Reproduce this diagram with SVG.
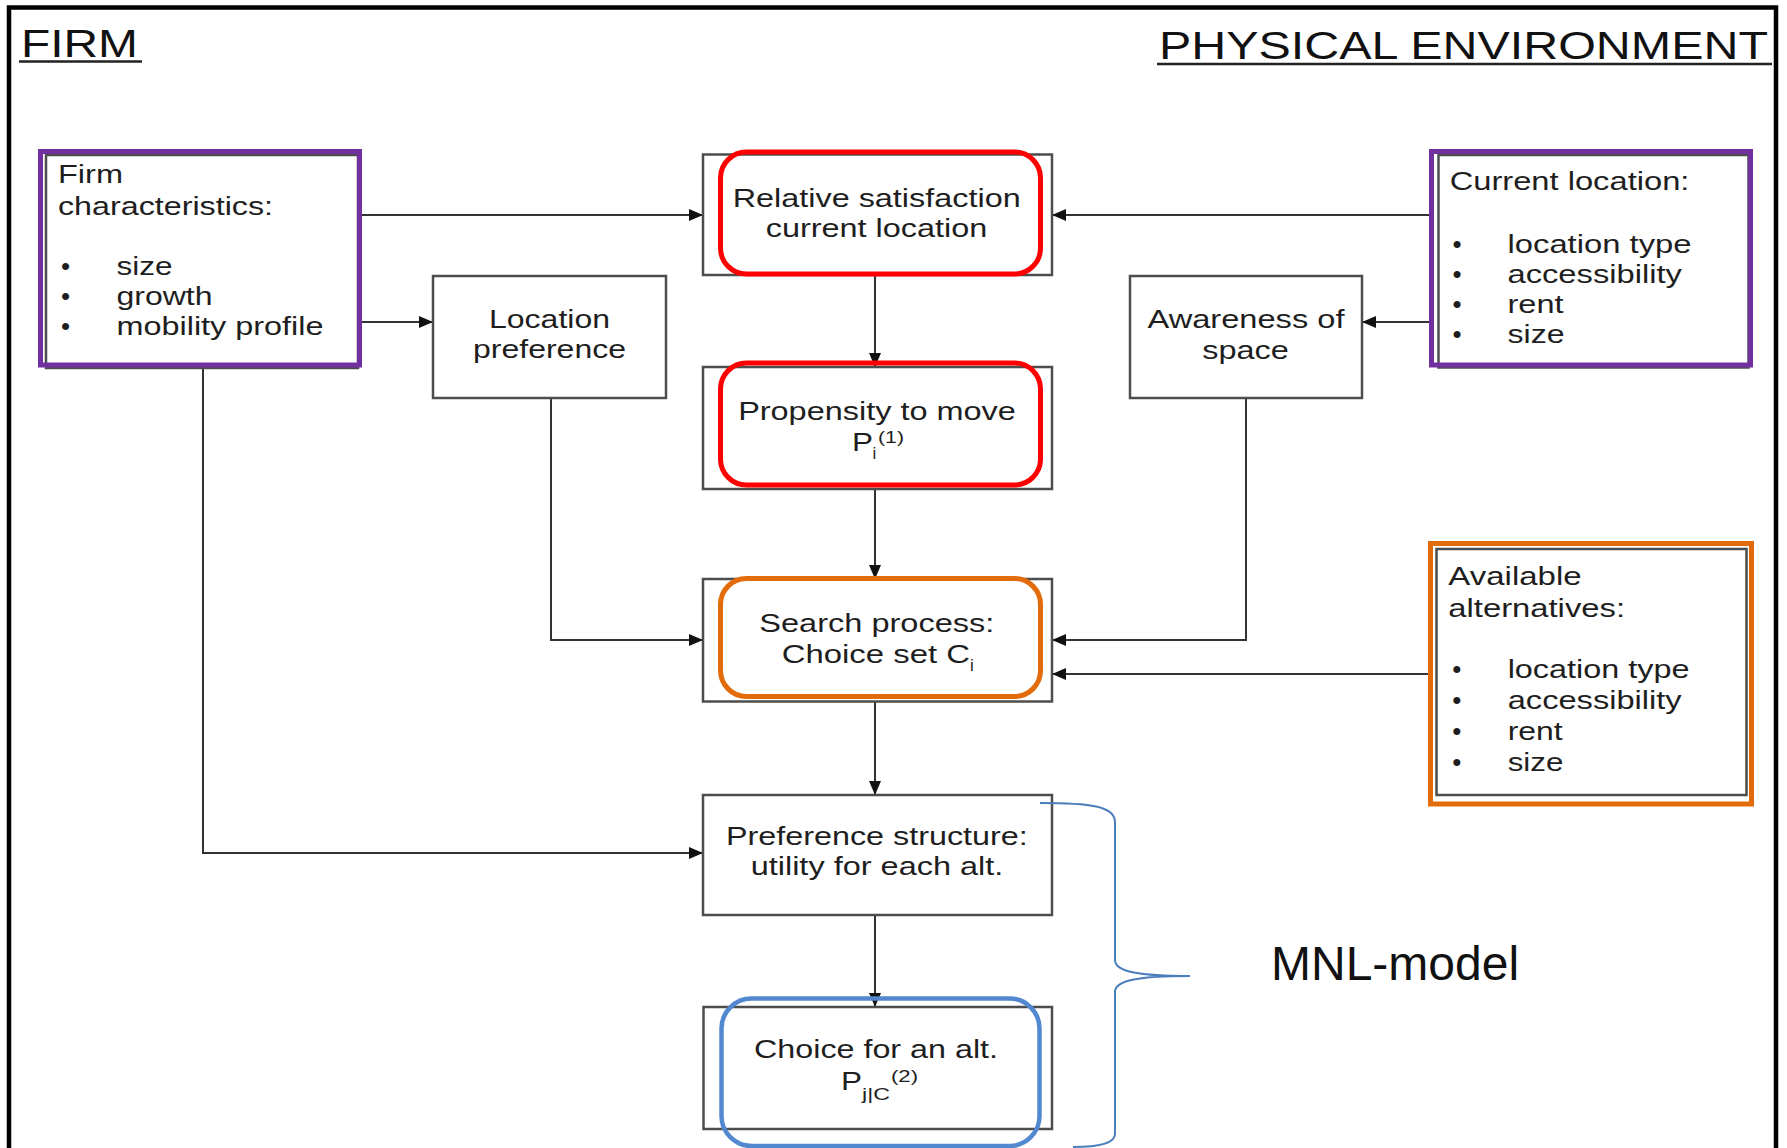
<svg xmlns="http://www.w3.org/2000/svg" width="1787" height="1148" viewBox="0 0 1787 1148">
<style>
.t{font-family:"Liberation Sans",Arial,sans-serif;font-size:26px;fill:#1e1e1e}
.s{font-family:"Liberation Sans",Arial,sans-serif;font-size:17px;fill:#1e1e1e}
.h{font-family:"Liberation Sans",Arial,sans-serif;font-size:39px;fill:#111}
.box{fill:#fff;stroke:#4d4d4d;stroke-width:2.5}
.inner{fill:#fff;stroke:#4d4d4d;stroke-width:2.5}
.red{fill:none;stroke:#ff0000;stroke-width:5}
.purple{fill:none;stroke:#7030a0;stroke-width:5}
.orange{fill:none;stroke:#e36c0a;stroke-width:5}
.blue{fill:none;stroke:#5288d0;stroke-width:4.5}
.c{fill:none;stroke:#333;stroke-width:2}
</style>
<defs>
<marker id="ah" markerUnits="userSpaceOnUse" markerWidth="14" markerHeight="12" refX="14" refY="6" orient="auto">
<path d="M0,0 L14,6 L0,12 z" fill="#111"/>
</marker>
</defs>
<rect x="0" y="0" width="1787" height="1148" fill="#fff"/>
<path d="M9,1160 V7.5 H1776 V1160" fill="none" stroke="#000" stroke-width="4.5"/>
<g id="headers">
<text class="h" x="21" y="57" textLength="117" lengthAdjust="spacingAndGlyphs">FIRM</text>
<line x1="19" y1="61.5" x2="142" y2="61.5" stroke="#222" stroke-width="2.5"/>
<text class="h" x="1159" y="59" textLength="609" lengthAdjust="spacingAndGlyphs">PHYSICAL ENVIRONMENT</text>
<line x1="1157" y1="64" x2="1772" y2="64" stroke="#222" stroke-width="2.5"/>
</g>
<g id="connectors">
<path class="c" d="M360,215 H703" marker-end="url(#ah)"/>
<path class="c" d="M360,322 H433" marker-end="url(#ah)"/>
<path class="c" d="M1432,215 H1052" marker-end="url(#ah)"/>
<path class="c" d="M1432,322 H1362" marker-end="url(#ah)"/>
<path class="c" d="M875,275 V367" marker-end="url(#ah)"/>
<path class="c" d="M875,489 V579" marker-end="url(#ah)"/>
<path class="c" d="M551,398 V640 H703" marker-end="url(#ah)"/>
<path class="c" d="M1246,398 V640 H1052" marker-end="url(#ah)"/>
<path class="c" d="M1431,674 H1052" marker-end="url(#ah)"/>
<path class="c" d="M875,702 V795" marker-end="url(#ah)"/>
<path class="c" d="M203,366 V853 H703" marker-end="url(#ah)"/>
<path class="c" d="M875,915 V1007" marker-end="url(#ah)"/>
</g>
<g id="firm-characteristics">
<rect class="inner" x="46" y="155" width="312" height="213"/>
<rect class="purple" x="40.5" y="151.5" width="319" height="213.5"/>
<text class="t" x="58" y="183" textLength="65" lengthAdjust="spacingAndGlyphs">Firm</text>
<text class="t" x="58" y="215" textLength="215" lengthAdjust="spacingAndGlyphs">characteristics:</text>
<text class="t" x="61" y="275">•</text>
<text class="t" x="61" y="305">•</text>
<text class="t" x="61" y="335">•</text>
<text class="t" x="116.5" y="275" textLength="56" lengthAdjust="spacingAndGlyphs">size</text>
<text class="t" x="116.5" y="305" textLength="96" lengthAdjust="spacingAndGlyphs">growth</text>
<text class="t" x="116.5" y="335" textLength="207" lengthAdjust="spacingAndGlyphs">mobility profile</text>
</g>
<g id="location-preference">
<rect class="box" x="433" y="276" width="233" height="122"/>
<text class="t" x="549.5" y="328" text-anchor="middle" textLength="121" lengthAdjust="spacingAndGlyphs">Location</text>
<text class="t" x="549.5" y="358" text-anchor="middle" textLength="153" lengthAdjust="spacingAndGlyphs">preference</text>
</g>
<g id="relative-satisfaction">
<rect class="box" x="703" y="154.5" width="349" height="120.5"/>
<rect class="red" x="720.5" y="152" width="320" height="122" rx="26"/>
<text class="t" x="876.7" y="206.7" text-anchor="middle" textLength="288" lengthAdjust="spacingAndGlyphs">Relative satisfaction</text>
<text class="t" x="876.5" y="237.3" text-anchor="middle" textLength="221.6" lengthAdjust="spacingAndGlyphs">current location</text>
</g>
<g id="propensity-to-move">
<rect class="box" x="703" y="367" width="349" height="122"/>
<rect class="red" x="720.5" y="363" width="320" height="122" rx="26"/>
<text class="t" x="877" y="420" text-anchor="middle" textLength="277.7" lengthAdjust="spacingAndGlyphs">Propensity to move</text>
<text class="t" x="852" y="451" textLength="21" lengthAdjust="spacingAndGlyphs">P</text>
<text class="s" x="872.5" y="459">i</text>
<text class="s" x="878" y="443" textLength="26" lengthAdjust="spacingAndGlyphs">(1)</text>
</g>
<g id="awareness-of-space">
<rect class="box" x="1130" y="276" width="232" height="122"/>
<text class="t" x="1246" y="328.3" text-anchor="middle" textLength="197" lengthAdjust="spacingAndGlyphs">Awareness of</text>
<text class="t" x="1245.5" y="359" text-anchor="middle" textLength="86.7" lengthAdjust="spacingAndGlyphs">space</text>
</g>
<g id="current-location">
<rect class="inner" x="1438.5" y="155" width="310" height="212.5"/>
<rect class="purple" x="1431.5" y="151.5" width="319" height="213.5"/>
<text class="t" x="1449.7" y="190" textLength="239.7" lengthAdjust="spacingAndGlyphs">Current location:</text>
<text class="t" x="1452.5" y="252.7">•</text>
<text class="t" x="1452.5" y="282.7">•</text>
<text class="t" x="1452.5" y="313.3">•</text>
<text class="t" x="1452.5" y="343.3">•</text>
<text class="t" x="1507.5" y="252.7" textLength="184" lengthAdjust="spacingAndGlyphs">location type</text>
<text class="t" x="1507.5" y="282.7" textLength="174.4" lengthAdjust="spacingAndGlyphs">accessibility</text>
<text class="t" x="1507.5" y="313.3" textLength="56" lengthAdjust="spacingAndGlyphs">rent</text>
<text class="t" x="1507.5" y="343.3" textLength="57" lengthAdjust="spacingAndGlyphs">size</text>
</g>
<g id="search-process">
<rect class="box" x="703" y="579" width="349" height="122.5"/>
<rect class="orange" x="720.5" y="578.5" width="320" height="118" rx="26"/>
<text class="t" x="876.8" y="631.7" text-anchor="middle" textLength="235" lengthAdjust="spacingAndGlyphs">Search process:</text>
<text class="t" x="781.7" y="663.3" textLength="188.3" lengthAdjust="spacingAndGlyphs">Choice set C</text>
<text class="s" x="970" y="671">i</text>
</g>
<g id="available-alternatives">
<rect class="inner" x="1436.5" y="549" width="310" height="246"/>
<rect class="orange" x="1430.5" y="543.5" width="321" height="260.5"/>
<text class="t" x="1448.3" y="585" textLength="133.3" lengthAdjust="spacingAndGlyphs">Available</text>
<text class="t" x="1448.3" y="616.5" textLength="176.7" lengthAdjust="spacingAndGlyphs">alternatives:</text>
<text class="t" x="1452.2" y="678.3">•</text>
<text class="t" x="1452.2" y="708.5">•</text>
<text class="t" x="1452.2" y="740">•</text>
<text class="t" x="1452.2" y="770.5">•</text>
<text class="t" x="1507.7" y="678.3" textLength="181.7" lengthAdjust="spacingAndGlyphs">location type</text>
<text class="t" x="1507.7" y="708.5" textLength="174" lengthAdjust="spacingAndGlyphs">accessibility</text>
<text class="t" x="1507.7" y="740" textLength="55" lengthAdjust="spacingAndGlyphs">rent</text>
<text class="t" x="1507.7" y="770.5" textLength="55.7" lengthAdjust="spacingAndGlyphs">size</text>
</g>
<g id="preference-structure">
<rect class="box" x="703" y="795" width="349" height="120"/>
<text class="t" x="876.9" y="845" text-anchor="middle" textLength="301.7" lengthAdjust="spacingAndGlyphs">Preference structure:</text>
<text class="t" x="877" y="875" text-anchor="middle" textLength="252.7" lengthAdjust="spacingAndGlyphs">utility for each alt.</text>
</g>
<g id="choice-for-an-alt">
<rect class="box" x="703.5" y="1007" width="348.5" height="122"/>
<rect class="blue" x="721.5" y="998.5" width="318" height="147.5" rx="30"/>
<text class="t" x="876" y="1058.3" text-anchor="middle" textLength="244" lengthAdjust="spacingAndGlyphs">Choice for an alt.</text>
<text class="t" x="841" y="1090" textLength="21" lengthAdjust="spacingAndGlyphs">P</text>
<text class="s" x="862" y="1100" textLength="28" lengthAdjust="spacingAndGlyphs">j|C</text>
<text class="s" x="891" y="1082" textLength="27" lengthAdjust="spacingAndGlyphs">(2)</text>
</g>
<g id="mnl-model">
<path d="M1040,803 C1090,803 1115,806 1115,822 L1115,960 C1115,972 1140,976 1190,976 C1140,976 1115,980 1115,992 L1115,1134 C1115,1144 1095,1147 1073,1147" fill="none" stroke="#4a7ebb" stroke-width="2"/>
<text x="1271" y="980" font-family="Liberation Sans, Arial, sans-serif" font-size="48" fill="#111">MNL-model</text>
</g>
</svg>
